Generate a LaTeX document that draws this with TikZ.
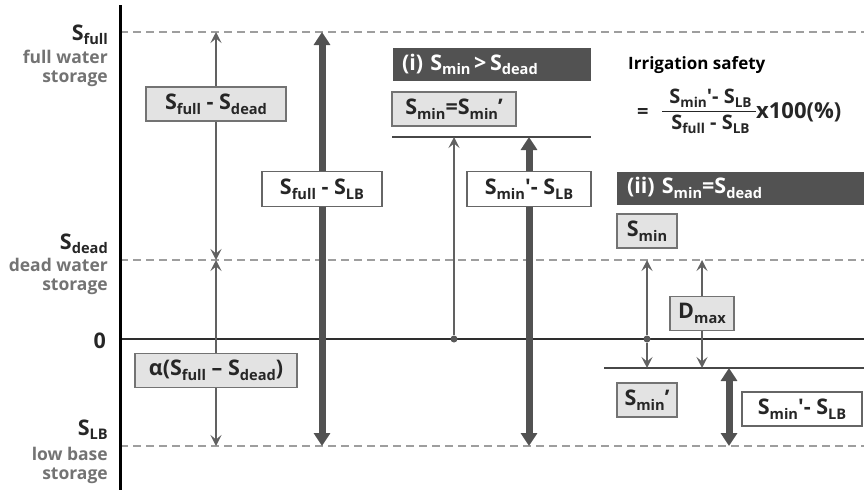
\documentclass[tikz,border=0pt]{standalone}
\usepackage{fontspec}
\setmainfont{Open Sans}[Ligatures=TeXOff]
\usetikzlibrary{arrows.meta,positioning}

\newcommand{\lblfont}{\fontsize{21.5}{24}\selectfont\bfseries}
\newcommand{\descfont}{\fontsize{17.5}{19}\selectfont\bfseries}
\newcommand{\eqfont}{\fontsize{17}{20}\selectfont\bfseries}
\newcommand{\frmfont}{\fontsize{20}{22}\selectfont\bfseries}
\newcommand{\sub}[1]{\raisebox{-0.22em}{\scalebox{0.68}{#1}}}
\newcommand{\Sx}[1]{S\sub{#1}}

\begin{document}
\begin{tikzpicture}[x=1pt, y=-1pt,
    % ---- styles ----
    lbl/.style={font=\lblfont, inner sep=0pt, text=black!85},
    LB/.style={draw=black!55, fill=black!11, line width=1.1pt, font=\lblfont,
               inner sep=0pt, text=black!85, minimum height=34pt},
    WB/.style={draw=black!60, fill=white, line width=1.1pt, font=\lblfont,
               inner sep=0pt, text=black!85, minimum height=35pt},
    H/.style={fill=black!68, text=white, font=\lblfont, inner ysep=0pt,
              align=left, minimum height=33pt},
    D/.style={font=\descfont, text=black!55, align=right, anchor=north east,
              inner sep=0pt},
    F/.style={font=\frmfont, inner sep=0pt, text=black!85},
    lvl/.style={draw=black!38, line width=1.8pt, dash pattern=on 8pt off 5pt},
    TA/.style={draw=black!62, line width=1.8pt,
               -{Stealth[length=11pt, width=11pt, inset=4.5pt]}},
    K/.style={draw=black!68, line width=7pt, -{Triangle[length=13pt, width=16pt]}},
    KK/.style={draw=black!68, line width=7pt,
               {Triangle[length=13pt, width=16pt]}-{Triangle[length=13pt, width=16pt]}},
    dot/.style={circle, fill=black!65, inner sep=0pt, minimum size=7pt},
    bar/.style={draw=black!72, line width=2.6pt},
]
\useasboundingbox (0,0) rectangle (864,490);

% ===== Levels and axes =====
\foreach \y in {32, 260, 446}
    \draw[lvl] (120,\y) -- (864,\y);
\draw[draw=black!82, line width=2.6pt] (120,339) -- (864,339);
\draw[draw=black, line width=3pt] (120,5) -- (120,490);

% ===== Axis labels =====
\node[lbl, anchor=base east] (sfull) at (108,40)  {\Sx{full}};
\node[D] (dfull) at (108,50)  {full water\\storage};
\node[lbl, anchor=base east] (sdead) at (108,249) {\Sx{dead}};
\node[D] (ddead) at (108,258) {dead water\\storage};
\node[lbl, anchor=base east] (szero) at (106,348) {0};
\node[lbl, anchor=base east] (slb)   at (108,435) {\Sx{LB}};
\node[D] (dlb)   at (108,447) {low base\\storage};

% ===== Column 1: storage split =====
\node[LB, minimum width=140pt] (bfd)    at (216,104)   {\Sx{full} - \Sx{dead}};
\node[LB, minimum width=162pt] (balpha) at (216,370.5) {α(\Sx{full} – \Sx{dead})};
\coordinate (fA) at (216,32);
\coordinate (dA) at (216,260);
\coordinate (lA) at (216,446);
\draw[TA] (bfd) -- (fA);
\draw[TA] (bfd) -- (dA);
\draw[TA] (balpha) -- (dA);
\draw[TA] (balpha) -- (lA);

\node[WB, minimum width=120pt] (bflb) at (322,189) {\Sx{full} - \Sx{LB}};
\coordinate (fF) at (322,32);
\coordinate (lF) at (322,446);
\draw[K] (bflb) -- (fF);
\draw[K] (bflb) -- (lF);

% ===== Case (i) =====
\node[H, text width=180pt, inner xsep=9pt] (hdr1) at (492,64.5)
    {(i) \Sx{min}\,>\,\Sx{dead}};
\node[LB, minimum width=124pt] (bmin1) at (454,109) {\Sx{min}=\Sx{min}’};
\coordinate (m1a) at (392,137);
\coordinate (m1b) at (591,137);
\draw[bar] (m1a) -- (m1b);

\node[dot] (dotC) at (454,339) {};
\coordinate (tC) at (454,137);
\draw[TA] (dotC) -- (tC);

\node[WB, minimum width=124pt] (bml1) at (529,189) {\Sx{min}'- \Sx{LB}};
\coordinate (tG) at (529,137);
\coordinate (lG) at (529,446);
\draw[K] (bml1) -- (tG);
\draw[K] (bml1) -- (lG);

% ===== Irrigation safety =====
\node[font=\eqfont, anchor=west, inner sep=0pt] (isafe) at (628,65) {Irrigation safety};
\node[F, anchor=west] (ieq) at (637,113) {=};
\node[F] (ifrac) at (709,112)
    {{\setlength{\arrayrulewidth}{1.3pt}\renewcommand{\arraystretch}{1.0}%
     \begin{tabular}{@{\hspace{7pt}}c@{\hspace{4pt}}}\Sx{min}'- \Sx{LB}\\[1pt]\hline\rule{0pt}{17pt}\Sx{full} - \Sx{LB}\end{tabular}}};
\node[F, font=\fontsize{22}{24}\selectfont\bfseries, anchor=west] (ipct) at (756,112) {x100(\%)};

% ===== Case (ii) =====
\node[H, text width=227pt, inner xsep=10pt] (hdr2) at (740.5,188)
    {(ii) \Sx{min}=\Sx{dead}};
\node[LB, minimum width=60pt] (bmin2) at (647,231) {\Sx{min}};
\coordinate (m2a) at (604,368);
\coordinate (m2b) at (864,368);
\draw[bar] (m2a) -- (m2b);

\node[dot] (dotD) at (647,339) {};
\coordinate (tD) at (647,260);
\coordinate (lD) at (647,368);
\draw[TA] (dotD) -- (tD);
\draw[TA] (dotD) -- (lD);

\node[LB, minimum width=64pt] (bdmax) at (702,313.5) {D\sub{max}};
\coordinate (tE) at (702,260);
\coordinate (lE) at (702,368);
\draw[TA] (bdmax) -- (tE);
\draw[TA] (bdmax) -- (lE);

\node[LB, minimum width=60pt] (bmin3) at (647,400) {\Sx{min}’};
\coordinate (tH) at (729,368);
\coordinate (lH) at (729,446);
\draw[KK] (tH) -- (lH);
\node[WB, minimum width=120pt, minimum height=34pt] (bml2) at (802,409) {\Sx{min}'- \Sx{LB}};

\end{tikzpicture}
\end{document}
